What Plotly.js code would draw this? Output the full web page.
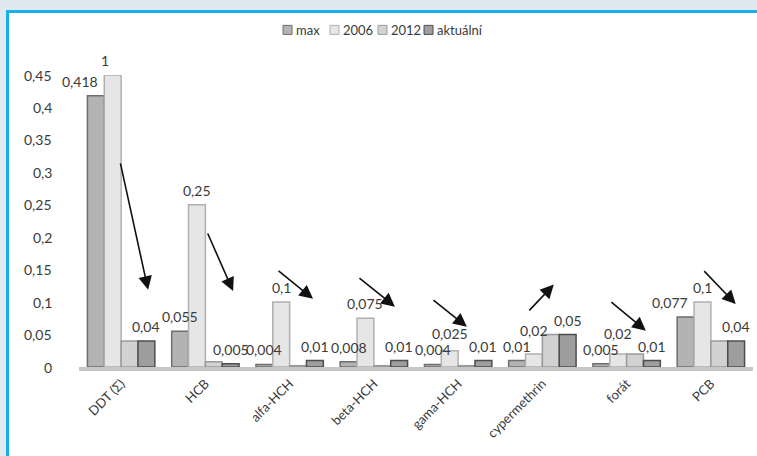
<!DOCTYPE html>
<html>
<head>
<meta charset="utf-8">
<script src="https://cdn.plot.ly/plotly-3.0.1.min.js"></script>
<style>
  html, body { margin: 0; padding: 0; width: 757px; height: 456px; overflow: hidden; background: #dfe9ef; }
  #frame { position: absolute; left: 6px; top: 10px; width: 748px; height: 443px;
           border-top: 3px solid #16b1ea; border-left: 3px solid #16b1ea; background: #ffffff; }
  #chart { width: 748px; height: 443px; }
</style>
</head>
<body>
<div id="frame"><div id="chart"></div></div>
<script>
// ---- data ----
const categories = ['DDT (Σ)', 'HCB', 'alfa-HCH', 'beta-HCH', 'gama-HCH', 'cypermethrin', 'forát', 'PCB'];
const seriesNames = ['max', '2006', '2012', 'aktuální'];
const valuesMax      = [0.418, 0.055, 0.004, 0.008, 0.004, 0.01, 0.005, 0.077];
const values2006     = [1, 0.25, 0.1, 0.075, 0.025, 0.02, 0.02, 0.1];
const values2012     = [0.04, 0.008, 0.002, 0.002, 0.002, 0.05, 0.02, 0.04];
const valuesAktualni = [0.04, 0.005, 0.01, 0.01, 0.01, 0.05, 0.01, 0.04];
const showLabels     = [true, true, false, true];
const yTicks = [0, 0.05, 0.1, 0.15, 0.2, 0.25, 0.3, 0.35, 0.4, 0.45];
const yMax = 0.45;
// trend arrows: [x tail, y tail, x head, y head] in category index / value units
const arrows = [
  [-0.012, 0.316, 0.320, 0.119],
  [1.020, 0.208, 1.329, 0.117],
  [1.851, 0.150, 2.278, 0.105],
  [2.811, 0.139, 3.250, 0.093],
  [3.689, 0.105, 4.104, 0.062],
  [4.828, 0.085, 5.136, 0.127],
  [5.801, 0.102, 6.228, 0.056],
  [6.904, 0.150, 7.295, 0.097]
];

// ---- styles ----
const fills = ['#b3b3b3', '#e6e6e6', '#d2d2d2', '#9e9e9e'];
const edges = ['#6e6e6e', '#b0b0b0', '#9a9a9a', '#4d4d4d'];
const font = 'Lato, "Open Sans", sans-serif';
const txtColor = '#3a3a3a';
const bargap = 0.2;
// label nudges in px [series-category] -> [dx, dy]
const nudge = {
  '0-0': [-16, 0], '1-0': [-8, 0], '0-7': [-16, 0],
  '1-4': [0, 3], '1-5': [0, 9], '1-6': [0, 6]
};

const allValues = [valuesMax, values2006, values2012, valuesAktualni];
const fmt = v => String(v).replace('.', ',');

const traces = allValues.map((vals, i) => ({
  type: 'bar',
  name: seriesNames[i],
  x: categories,
  y: vals.map(v => Math.min(v, yMax)),
  marker: { color: fills[i], line: { color: edges[i], width: 1.5 } },
  cliponaxis: false,
  hoverinfo: 'skip'
}));

const annotations = [];
// y-axis tick labels (placed on the y scale, left of the plot)
yTicks.forEach(v => annotations.push({
  xref: 'paper', yref: 'y', x: 0, y: v, xanchor: 'right', yanchor: 'middle',
  xshift: -25, showarrow: false, text: fmt(v),
  font: { family: font, size: 14, color: txtColor }
}));
// value labels, positioned over bar centres in category units
const nSeries = allValues.length;
const barW = (1 - bargap) / nSeries;
allValues.forEach((vals, s) => {
  if (!showLabels[s]) return;
  const off = -(1 - bargap) / 2 + barW * (s + 0.5);
  vals.forEach((v, c) => {
    const n = nudge[s + '-' + c] || [0, 0];
    annotations.push({
      xref: 'x', yref: 'y', x: c + off, y: Math.min(v, yMax),
      text: fmt(v), showarrow: false, yanchor: 'bottom', xanchor: 'center',
      xshift: n[0], yshift: 4 + n[1],
      font: { family: font, size: 14, color: txtColor }
    });
  });
});
// trend arrows
arrows.forEach(a => annotations.push({
  xref: 'x', yref: 'y', axref: 'x', ayref: 'y',
  x: a[2], y: a[3], ax: a[0], ay: a[1],
  showarrow: true, arrowhead: 2, arrowsize: 1.7, arrowwidth: 1.6,
  arrowcolor: '#111111', text: ''
}));

// custom compact legend (paper coords)
const legendX = [0.3027, 0.3724, 0.4436, 0.5119];
const shapes = [];
seriesNames.forEach((nm, i) => {
  const x0 = legendX[i];
  shapes.push({
    type: 'rect', xref: 'paper', yref: 'paper',
    x0: x0, x1: x0 + 0.0134, y0: 1.139, y1: 1.170,
    fillcolor: fills[i], line: { color: edges[i], width: 1 }
  });
  annotations.push({
    xref: 'paper', yref: 'paper', x: x0 + 0.0165, y: 1.154,
    xanchor: 'left', yanchor: 'middle', showarrow: false, text: nm,
    font: { family: font, size: 13, color: txtColor }
  });
});

const layout = {
  width: 748, height: 443,
  margin: { l: 70, r: 4, t: 62, b: 89 },
  paper_bgcolor: '#ffffff', plot_bgcolor: '#ffffff',
  separators: ', ',
  barmode: 'group', bargap: bargap, bargroupgap: 0,
  font: { family: font, size: 13, color: txtColor },
  showlegend: false,
  xaxis: {
    type: 'category', range: [-0.5, categories.length - 0.5], autorange: false,
    tickangle: -45,
    showline: true, linecolor: '#c6c6c6', linewidth: 4,
    showgrid: false, zeroline: false, ticks: '',
    tickfont: { family: font, size: 13, color: txtColor }
  },
  yaxis: {
    range: [0, yMax], autorange: false, tickvals: yTicks,
    showticklabels: false,
    showgrid: false, zeroline: false, showline: false, ticks: ''
  },
  shapes: shapes,
  annotations: annotations
};

Plotly.newPlot('chart', traces, layout, { displayModeBar: false, staticPlot: true });
</script>
</body>
</html>
